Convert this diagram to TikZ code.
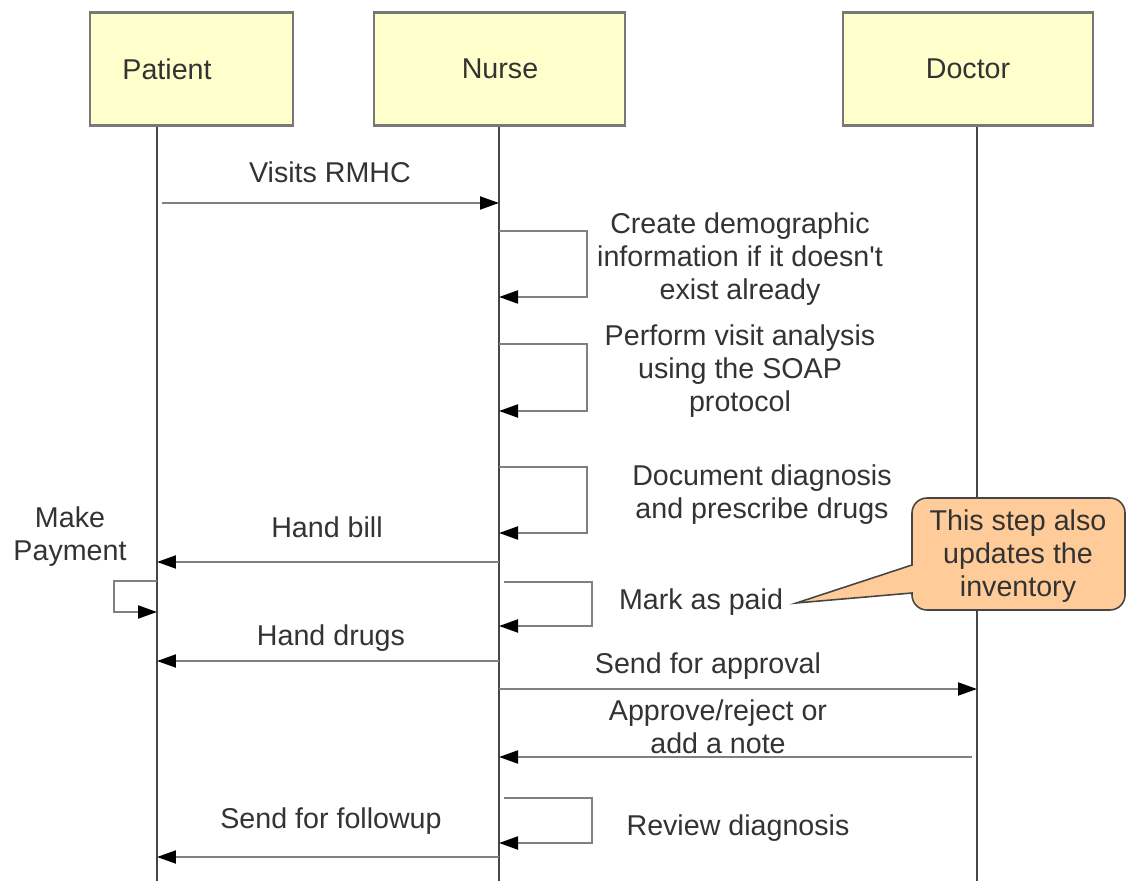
\documentclass[tikz,border=0pt]{standalone}
\usepackage{fontspec}
\setmainfont{Liberation Sans}
\usepackage{tikz}
\usetikzlibrary{arrows.meta,calc,positioning}
\definecolor{hFill}{RGB}{255,255,204}
\definecolor{hLine}{RGB}{120,120,120}
\definecolor{mLine}{RGB}{128,128,128}
\definecolor{lLine}{RGB}{70,70,70}
\definecolor{tTxt}{RGB}{51,51,51}
\definecolor{nFill}{RGB}{255,204,153}
\tikzset{
  head/.style={draw=hLine, line width=1.2pt, fill=hFill, minimum height=2.26cm, inner sep=0pt},
  txt/.style={text=tTxt, font=\fontsize{16.3}{18.7}\selectfont, align=center, inner sep=0pt},
  life/.style={draw=lLine, line width=0.8pt},
  msg/.style={draw=mLine, line width=1.1pt, -{Triangle[length=0.38cm,width=0.26cm,color=black]}},
  callout/.style={draw=lLine, line width=0.9pt, fill=nFill},
}
\begin{document}
\begin{tikzpicture}[x=0.02cm, y=-0.02cm]
    \useasboundingbox (0,0) rectangle (1129,881);

    \node[head, minimum width=4.06cm] (patient) at (191.5,69) {};
    \node[head, minimum width=5.02cm] (nurse) at (499.5,69) {};
    \node[head, minimum width=5.00cm] (doctor) at (968,69) {};
    \node[txt] (patientlbl) at (167,69) {Patient};
    \node[txt] (nurselbl) at (500,69) {Nurse};
    \node[txt] (doctorlbl) at (968,69) {Doctor};

    \coordinate (pL) at (157,881);
    \coordinate (nL) at (499,881);
    \coordinate (dL) at (977,881);
    \draw[life] (patient.south -| pL) -- (pL);
    \draw[life] (nurse.south -| nL) -- (nL);
    \draw[life] (doctor.south -| dL) -- (dL);

    \node[txt] (visit) at (330,172) {Visits RMHC};
    \coordinate (r1) at (0,203);
    \draw[msg] ([xshift=3]pL |- r1) -- (nL |- r1);

    \node[txt] (demo) at (740,259) {Create demographic\\information if it doesn\textquotesingle t\\exist already};
    \coordinate (k1) at (587,231);
    \coordinate (k1b) at (587,297);
    \draw[msg] (nL |- k1) -- (k1) -- (k1b) -- (nL |- k1b);

    \node[txt] (soap) at (740,371) {Perform visit analysis\\using the SOAP\\protocol};
    \coordinate (k2) at (587,344);
    \coordinate (k2b) at (587,411);
    \draw[msg] (nL |- k2) -- (k2) -- (k2b) -- (nL |- k2b);

    \node[txt] (diag) at (762,495) {Document diagnosis\\and prescribe drugs};
    \coordinate (k3) at (587,467);
    \coordinate (k3b) at (587,533);
    \draw[msg] (nL |- k3) -- (k3) -- (k3b) -- (nL |- k3b);

    \node[txt] (bill) at (327,527) {Hand bill};
    \coordinate (r2) at (0,562);
    \draw[msg] (nL |- r2) -- (pL |- r2);

    \node[txt] (pay) at (70,537) {Make\\Payment};
    \coordinate (pk) at (114,581);
    \coordinate (pkb) at (114,612);
    \draw[msg] (pL |- pk) -- (pk) -- (pkb) -- (pL |- pkb);

    \node[txt] (paid) at (701,602) {Mark as paid};
    \coordinate (k4) at (592,582);
    \coordinate (k4b) at (592,626);
    \draw[msg] ([xshift=3]nL |- k4) -- (k4) -- (k4b) -- (nL |- k4b);

    \draw[callout] (912,565) [rounded corners=0.3cm] -- (912,498) -- (1125,498) -- (1125,610) -- (912,610)
        [sharp corners] -- (912,593) -- ($(paid.east)+(13,1)$) -- cycle;
    \node[txt] (note) at (1018,556) {This step also\\updates the\\inventory};

    \node[txt] (drugs) at (331,638) {Hand drugs};
    \coordinate (r3) at (0,661);
    \draw[msg] (nL |- r3) -- (pL |- r3);

    \node[txt] (approval) at (708,666) {Send for approval};
    \coordinate (r4) at (0,689);
    \draw[msg] (nL |- r4) -- (dL |- r4);

    \node[txt] (approve) at (718,727) {Approve/reject or\\add a note};
    \coordinate (r5) at (0,757);
    \draw[msg] ([xshift=-3]dL |- r5) -- (nL |- r5);

    \node[txt] (review) at (738,828) {Review diagnosis};
    \coordinate (k5) at (592,798);
    \coordinate (k5b) at (592,843);
    \draw[msg] ([xshift=3]nL |- k5) -- (k5) -- (k5b) -- (nL |- k5b);

    \node[txt] (followup) at (331,821) {Send for followup};
    \coordinate (r6) at (0,857);
    \draw[msg] (nL |- r6) -- (pL |- r6);
\end{tikzpicture}
\end{document}
